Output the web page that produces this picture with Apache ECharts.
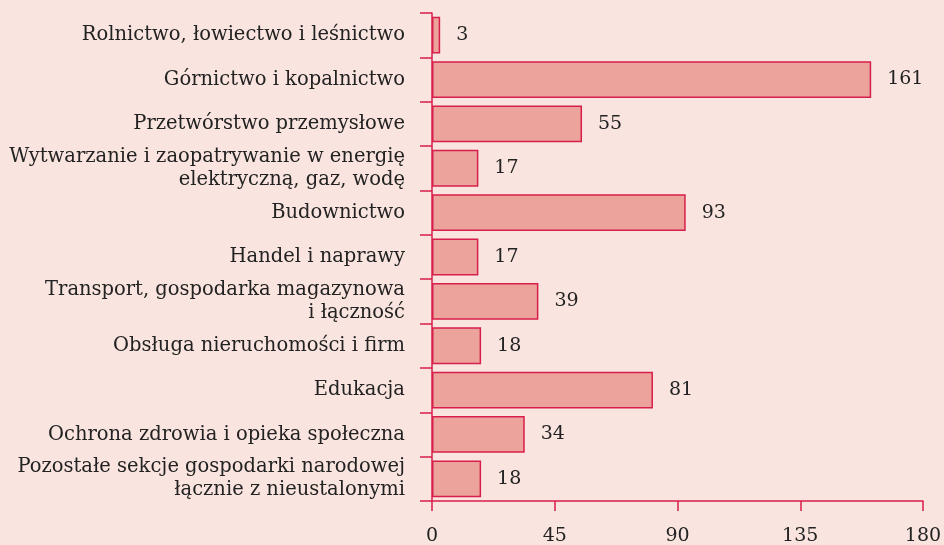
<!DOCTYPE html>
<html>
<head>
<meta charset="utf-8">
<script src="https://cdn.jsdelivr.net/npm/echarts@6/dist/echarts.min.js"></script>
<style>
  html, body { margin: 0; padding: 0; background: #f9e4df; }
  #chart { width: 944px; height: 545px; }
</style>
</head>
<body>
<div id="chart"></div>
<script>
// kategorie (od góry)
const categories = [
  "Rolnictwo, łowiectwo i leśnictwo",
  "Górnictwo i kopalnictwo",
  "Przetwórstwo przemysłowe",
  "Wytwarzanie i zaopatrywanie w energię\nelektryczną, gaz, wodę",
  "Budownictwo",
  "Handel i naprawy",
  "Transport, gospodarka magazynowa\ni łączność",
  "Obsługa nieruchomości i firm",
  "Edukacja",
  "Ochrona zdrowia i opieka społeczna",
  "Pozostałe sekcje gospodarki narodowej\nłącznie z nieustalonymi"
];
const values = [3, 161, 55, 17, 93, 17, 39, 18, 81, 34, 18];
const xTicks = [0, 45, 90, 135, 180];

const axisColor = "#d81e4a";
const font = "'DejaVu Serif', serif";

const chart = echarts.init(document.getElementById("chart"));
chart.setOption({
  backgroundColor: "#f9e4df",
  animation: false,
  // bez automatycznego dopasowania do etykiet
  grid: { left: 432, right: 21, top: 13, bottom: 44, outerBoundsMode: "none", containLabel: false },
  xAxis: {
    type: "value",
    min: xTicks[0],
    max: xTicks[xTicks.length - 1],
    interval: 45,
    splitLine: { show: false },
    axisLine: { show: true, lineStyle: { color: axisColor, width: 1.5 } },
    axisTick: { show: true, length: 10, lineStyle: { color: axisColor, width: 1.5 } },
    axisLabel: { color: "#222", fontSize: 19, fontFamily: font, margin: 26 }
  },
  yAxis: {
    type: "category",
    inverse: true,
    data: categories,
    axisLine: { show: true, lineStyle: { color: axisColor, width: 1.5 } },
    axisTick: { show: true, length: 12, lineStyle: { color: axisColor, width: 1.5 } },
    axisLabel: {
      color: "#222", fontSize: 19.5, fontFamily: font, margin: 27,
      align: "right", lineHeight: 23
    }
  },
  series: [{
    type: "bar",
    data: values,
    barCategoryGap: "17%",
    itemStyle: { color: "#eba39c", borderColor: "#d81e4a", borderWidth: 1.5 },
    label: {
      show: true, position: "right", distance: 16,
      color: "#222", fontSize: 19, fontFamily: font
    }
  }]
});
</script>
</body>
</html>
